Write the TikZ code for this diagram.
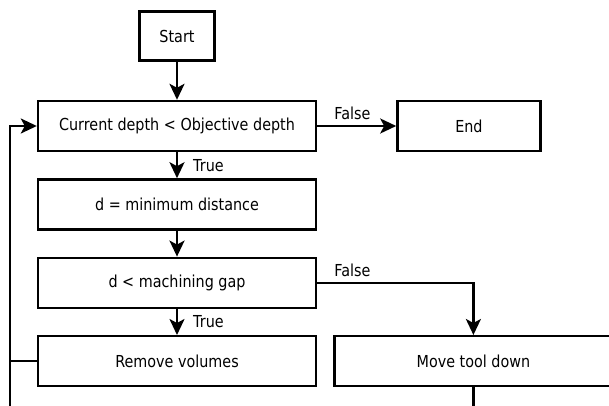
\documentclass[tikz,border=0pt]{standalone}
\usepackage{fontspec}
\setmainfont[FakeStretch=0.87]{DejaVu Sans}
\usetikzlibrary{positioning,arrows.meta}
\begin{document}
\begin{tikzpicture}[x=1pt,y=-1pt,line width=2.4pt,node distance=26pt,
    block/.style={rectangle,draw,minimum width=278pt,minimum height=50pt,font=\fontsize{16.5}{19}\selectfont},
    flow/.style={-{Stealth[length=16pt,width=15pt,inset=4pt]}},
    lbl/.style={font=\fontsize{16.5}{19}\selectfont,inner sep=3pt}]
    \useasboundingbox (0,0) rectangle (609,406);
    \clip (0,0) rectangle (609,406);
    \node[block] (cond) at (177,126) {Current depth < Objective depth};
    \node[block,minimum width=75pt,minimum height=49pt] (start) [above=38pt of cond] {Start};
    \node[block,minimum width=143pt] (end) [right=79pt of cond] {End};
    \node[block] (dist) [below=of cond] {d = minimum distance};
    \node[block] (gap) [below=of dist] {d < machining gap};
    \node[block] (remove) [below=of gap] {Remove volumes};
    \node[block] (move) [right=16pt of remove] {Move tool down};
    \coordinate (back) at (10,440);
    \draw[flow] (start) -- (cond);
    \draw[flow] (cond.east) node[lbl,above right=2pt and 13pt] {False} -- (end);
    \draw[flow] (cond) -- node[lbl,right=12pt] {True} (dist);
    \draw[flow] (dist) -- (gap);
    \draw[flow] (gap) -- node[lbl,right=12pt] {True} (remove);
    \draw[flow] (gap.east) node[lbl,above right=2pt and 13pt] {False} -| (move);
    \draw[flow] (move) |- (back) |- (cond.west);
    \draw (remove.west) -- (remove.west -| back);
\end{tikzpicture}
\end{document}
